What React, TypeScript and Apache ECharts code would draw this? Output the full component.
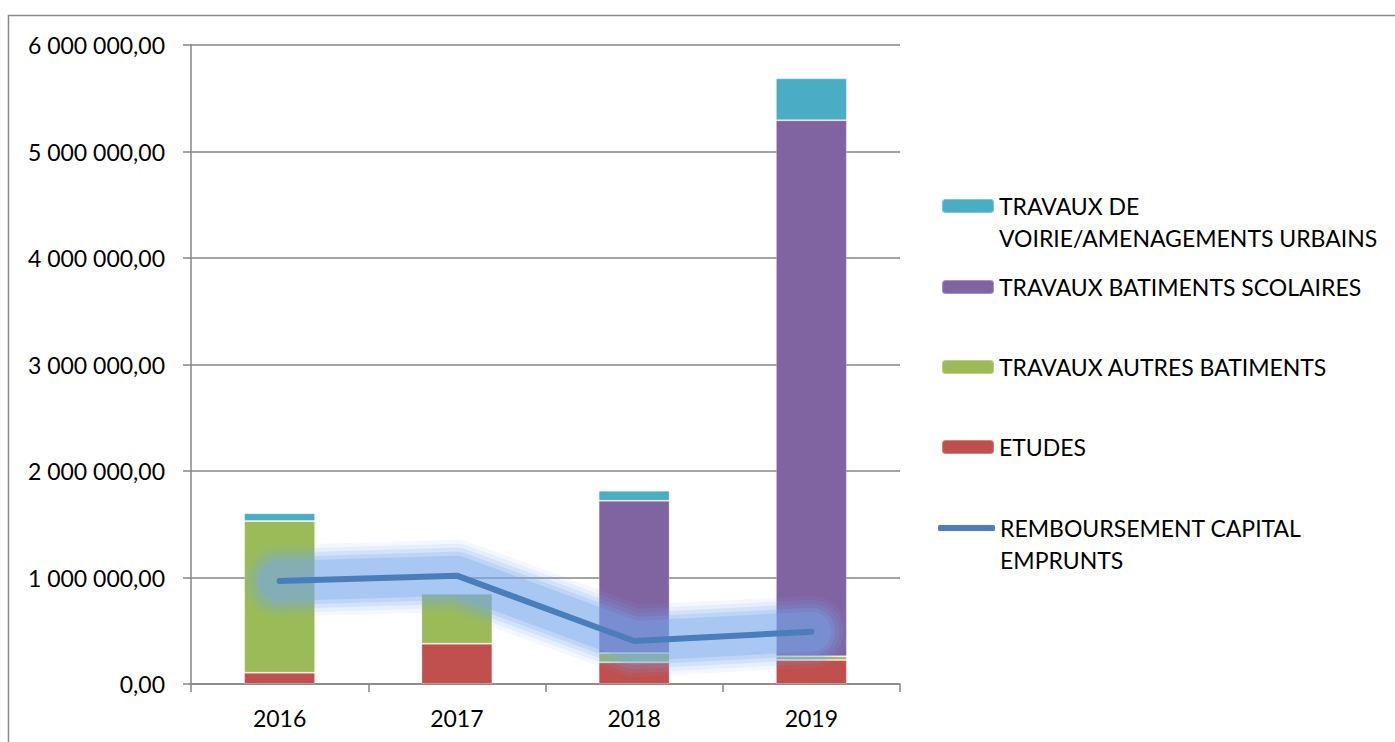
import React, { useEffect, useRef } from "react";
import * as echarts from "echarts";

const years = ["2016", "2017", "2018", "2019"];
const etudes = [106000, 378000, 204000, 225000];
const autresBatiments = [1424000, 470000, 87000, 35000];
const batimentsScolaires = [0, 8000, 1430000, 5033000];
const voirie = [73000, 0, 94000, 394000];
const remboursement = [967000, 1017000, 404000, 491000];

const names = {
  voirie: "TRAVAUX DE VOIRIE/AMENAGEMENTS URBAINS",
  scolaires: "TRAVAUX BATIMENTS SCOLAIRES",
  autres: "TRAVAUX AUTRES BATIMENTS",
  etudes: "ETUDES",
  rembours: "REMBOURSEMENT CAPITAL EMPRUNTS",
};
const legendLabels: Record<string, string> = {
  [names.voirie]: "\nTRAVAUX DE\nVOIRIE/AMENAGEMENTS URBAINS",
  [names.scolaires]: "TRAVAUX BATIMENTS SCOLAIRES",
  [names.autres]: "TRAVAUX AUTRES BATIMENTS",
  [names.etudes]: "ETUDES",
  [names.rembours]: "\nREMBOURSEMENT CAPITAL\nEMPRUNTS",
};

const colors = {
  voirie: "#4BACC6",
  scolaires: "#8064A2",
  autres: "#9BBB59",
  etudes: "#C0504D",
  rembours: "#4A7EBB",
};

// soft glow layers around the repayment line: [width, alpha]
const glowLayers: [number, number][] = [
  [72, 0.08],
  [64, 0.12],
  [56, 0.16],
  [48, 0.22],
  [40, 0.3],
];

const FONT = "Lato";

function fmt(v: number): string {
  const s = Math.round(v).toString().replace(/\B(?=(\d{3})+(?!\d))/g, " ");
  return s + ",00";
}

export default function App() {
  const ref = useRef<HTMLDivElement>(null);
  useEffect(() => {
    if (!ref.current) return;
    const chart = echarts.init(ref.current, undefined, { renderer: "svg" });
    const legendText = {
      fontFamily: FONT,
      fontSize: 23,
      color: "#000",
      lineHeight: 32,
    };
    const mkLegend = (name: string, top: number, left: number, extra: any = {}) => ({
      show: true,
      orient: "vertical",
      left,
      top,
      padding: 0,
      itemWidth: 52,
      itemHeight: 14,
      selectedMode: false,
      formatter: (n: string) => legendLabels[n],
      textStyle: legendText,
      data: [name],
      ...extra,
    });
    const barSeries = (name: string, data: number[], color: string) => ({
      name,
      type: "bar",
      stack: "total",
      data,
      barWidth: 71,
      itemStyle: {
        color,
        borderColor: "rgba(255,255,255,0.3)",
        borderWidth: 1,
      },
    });
    const glowSeries = glowLayers.map(([w, a], i) => ({
      name: "glow" + i,
      type: "line",
      data: remboursement,
      symbol: "none",
      silent: true,
      z: 4,
      lineStyle: {
        color: `rgba(118,170,236,${a})`,
        width: w,
        cap: "round",
        join: "round",
      },
    }));
    chart.setOption({
      animation: false,
      backgroundColor: "#fff",
      graphic: [
        {
          type: "rect",
          shape: { x: 8.5, y: 15.5, width: 1450, height: 800 },
          style: { fill: "none", stroke: "#8a8a8a", lineWidth: 1.5 },
          silent: true,
        },
      ],
      grid: { left: 191, right: 495, top: 45, bottom: 58 },
      legend: [
        mkLegend(names.voirie, 158, 941),
        mkLegend(names.scolaires, 271, 941),
        mkLegend(names.autres, 351, 941),
        mkLegend(names.etudes, 431, 941),
        mkLegend(names.rembours, 480, 938, {
          itemWidth: 57,
          itemHeight: 6,
          data: [
            {
              name: names.rembours,
              icon: "roundRect",
              itemStyle: { color: colors.rembours, shadowBlur: 0, borderWidth: 0 },
            },
          ],
        }),
      ],
      xAxis: {
        type: "category",
        data: years,
        axisLine: { show: true, lineStyle: { color: "#868686", width: 1.5 } },
        axisTick: { show: true, length: 8, lineStyle: { color: "#868686", width: 1.5 } },
        axisLabel: { fontFamily: FONT, fontSize: 23, color: "#000", margin: 22 },
      },
      yAxis: {
        type: "value",
        min: 0,
        max: 6000000,
        interval: 1000000,
        axisLine: { show: true, lineStyle: { color: "#868686", width: 1.5 } },
        axisTick: { show: true, length: 8, lineStyle: { color: "#868686", width: 1.5 } },
        splitLine: { show: true, lineStyle: { color: "#868686", width: 1.5 } },
        axisLabel: {
          fontFamily: FONT,
          fontSize: 23,
          color: "#000",
          margin: 26,
          formatter: (v: number) => fmt(v),
        },
      },
      series: [
        barSeries(names.etudes, etudes, colors.etudes),
        barSeries(names.autres, autresBatiments, colors.autres),
        barSeries(names.scolaires, batimentsScolaires, colors.scolaires),
        barSeries(names.voirie, voirie, colors.voirie),
        ...glowSeries,
        {
          name: names.rembours,
          type: "line",
          data: remboursement,
          symbol: "none",
          z: 5,
          lineStyle: {
            color: colors.rembours,
            width: 6,
            cap: "round",
            join: "round",
          },
          itemStyle: { color: colors.rembours },
        },
      ],
    });
    return () => chart.dispose();
  }, []);
  return (
    <div
      ref={ref}
      style={{ position: "fixed", left: 0, top: 0, width: 1395, height: 742 }}
    />
  );
}
